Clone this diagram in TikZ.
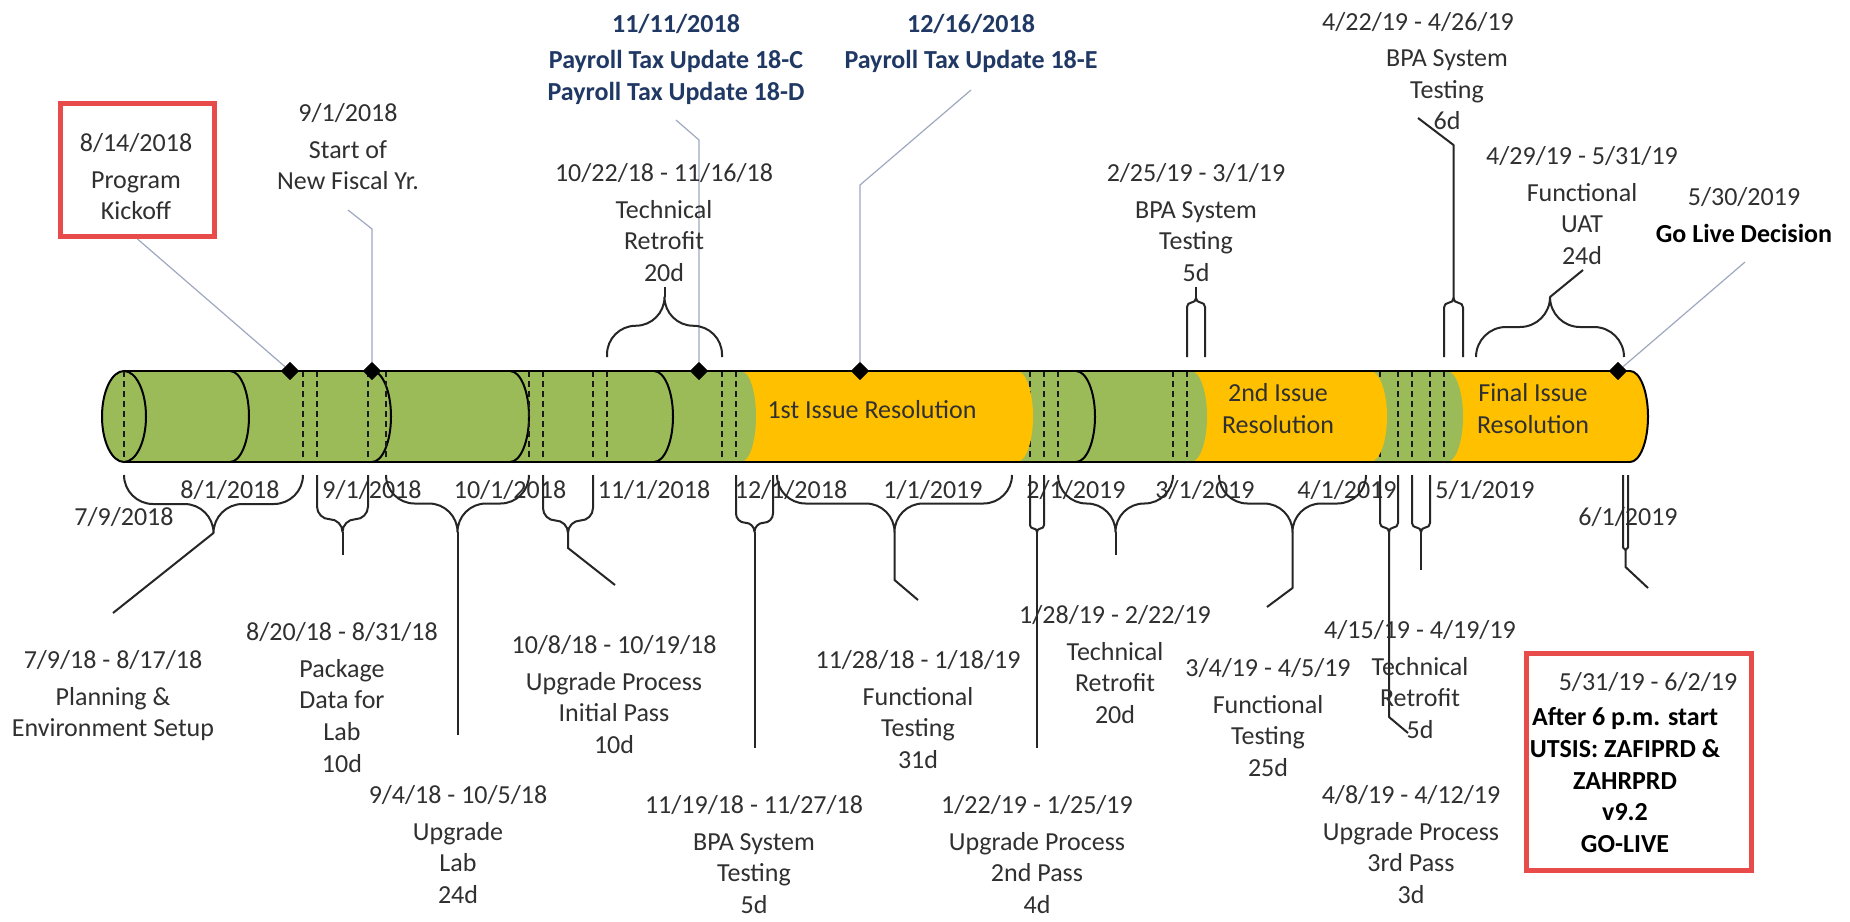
\documentclass[tikz,border=0pt]{standalone}
\usepackage{fontspec}
\setmainfont{Carlito}
\usetikzlibrary{shapes.geometric}
\definecolor{tlgreen}{HTML}{9BBB59}
\definecolor{tlyellow}{HTML}{FFC000}
\definecolor{tlblue}{HTML}{203864}
\definecolor{tlred}{HTML}{E84C4A}
\definecolor{tltext}{HTML}{303030}
\definecolor{tllead}{HTML}{9EA8C0}
% right half-ellipse of the bar, top at x=#1, bulge #2
\newcommand\rcap[2]{(#1,371) .. controls ({#1+0.552*#2},371) and ({#1+#2},391.4) .. ({#1+#2},416.5) .. controls ({#1+#2},441.6) and ({#1+0.552*#2},462) .. (#1,462)}
% curly brace: x1, x2, y0 (ends), y1 (tip), name of tip
\newcommand\tlbrace[5]{%
  \pgfmathsetmacro\tbxa{#1}\pgfmathsetmacro\tbxb{#2}%
  \pgfmathsetmacro\tbya{#3}\pgfmathsetmacro\tbyb{#4}%
  \pgfmathsetmacro\tbxm{(\tbxa+\tbxb)/2}%
  \pgfmathsetmacro\tbs{ifthenelse(\tbyb>\tbya,1,-1)}%
  \pgfmathsetmacro\tbh{abs(\tbyb-\tbya)}%
  \pgfmathsetmacro\tbc{min(\tbh/2,(\tbxb-\tbxa)/4)}%
  \pgfmathsetmacro\tbyv{\tbya+(\tbs)*(\tbh-2*\tbc)}%
  \pgfmathsetmacro\tbym{\tbyv+(\tbs)*\tbc}%
  \pgfmathsetmacro\tbyp{\tbyv+(\tbs)*0.552*\tbc}%
  \pgfmathsetmacro\tbyq{\tbyb-(\tbs)*0.552*\tbc}%
  \pgfmathsetmacro\tbxp{\tbxa+0.448*\tbc}%
  \pgfmathsetmacro\tbxq{\tbxa+\tbc}%
  \pgfmathsetmacro\tbxr{\tbxm-\tbc}%
  \pgfmathsetmacro\tbxs{\tbxm-0.448*\tbc}%
  \pgfmathsetmacro\tbxt{\tbxm+0.448*\tbc}%
  \pgfmathsetmacro\tbxu{\tbxm+\tbc}%
  \pgfmathsetmacro\tbxv{\tbxb-\tbc}%
  \pgfmathsetmacro\tbxw{\tbxb-0.448*\tbc}%
  \draw[bracel] (\tbxa,\tbya) -- (\tbxa,\tbyv)
    .. controls (\tbxa,\tbyp) and (\tbxp,\tbym) .. (\tbxq,\tbym) -- (\tbxr,\tbym)
    .. controls (\tbxs,\tbym) and (\tbxm,\tbyq) .. (\tbxm,\tbyb)
    .. controls (\tbxm,\tbyq) and (\tbxt,\tbym) .. (\tbxu,\tbym) -- (\tbxv,\tbym)
    .. controls (\tbxw,\tbym) and (\tbxb,\tbyp) .. (\tbxb,\tbyv) -- (\tbxb,\tbya);
  \coordinate (#5) at (\tbxm,\tbyb);
}
\begin{document}
\begin{tikzpicture}[x=0.5pt,y=-0.5pt,
  bracel/.style={draw=black!85, line width=1pt, line join=round},
  barline/.style={draw=black, line width=1pt},
  dashline/.style={draw=black!90, line width=0.9pt, dash pattern=on 3pt off 2pt},
  leader/.style={draw=tllead, line width=0.6pt},
  diam/.style={shape=diamond, fill=black, inner sep=0pt, minimum width=9pt, minimum height=9pt},
  lbl/.style={anchor=north, yshift=4.8pt, align=center, inner sep=0pt, font=\fontsize{13}{15.8}\selectfont, text=tltext},
  blbl/.style={lbl, font=\fontsize{13}{15.8}\selectfont\bfseries, text=tlblue},
  klbl/.style={lbl, font=\fontsize{13}{15.8}\selectfont\bfseries, text=black},
  redbox/.style={draw=tlred, line width=2.7pt, inner sep=0pt}]
\useasboundingbox (0,0) rectangle (1850,921);
\fill[white] (0,0) rectangle (1850,921);

% ---------- bar ----------
\fill[tlgreen] (124,371) rectangle (1630,462);
\foreach \mx in {230,372,510,654,1076} \draw[barline] \rcap{\mx}{19};
\foreach \dx in {303,317,368,386,529,543,593,607,722,736,1030,1044,1058,1173,1187,1380,1398,1412,1430,1444}
  \draw[dashline] (\dx,371) -- (\dx,462);
\fill[tlyellow] (741,371) rectangle (1017,462);
\fill[tlyellow] \rcap{1017}{16} -- cycle;
\fill[tlgreen] \rcap{741}{15} -- cycle;
\fill[tlyellow] (1191,371) rectangle (1370,462);
\fill[tlyellow] \rcap{1370}{17} -- cycle;
\fill[tlgreen] \rcap{1191}{16} -- cycle;
\fill[tlyellow] (1447,371) rectangle (1630,462);
\fill[tlyellow] \rcap{1630}{18} -- cycle;
\fill[tlgreen] \rcap{1447}{16} -- cycle;
\draw[barline, fill=tlgreen] (124,416.5) ellipse [x radius=11pt, y radius=22.75pt];
\draw[dashline] (124,371) -- (124,462);
\draw[barline] (124,371) -- (1630,371);
\draw[barline] (124,462) -- (1630,462);
\draw[barline] \rcap{1630}{18};

\node[lbl] (iss1) at (872,410) {1st Issue Resolution};
\node[lbl] (iss2) at (1278,393) {2nd Issue\\Resolution};
\node[lbl] (iss3) at (1533,393) {Final Issue\\Resolution};

% ---------- milestones ----------
\node[diam] (m1) at (290,371) {};
\node[diam] (m2) at (372,371) {};
\node[diam] (m3) at (699,371) {};
\node[diam] (m4) at (860,371) {};
\node[diam] (m5) at (1618,371) {};

\node[redbox, minimum width=76.8pt, minimum height=66.3pt] (kickbox) at (137.5,170) {};
\node[lbl] (kick) at (136,143) {8/14/2018\\[2.4pt]Program\\Kickoff};
\node[lbl] (fisc) at (348,113) {9/1/2018\\[2.4pt]Start of\\New Fiscal Yr.};
\node[blbl] (pay1) at (676,23) {11/11/2018\\[2.4pt]Payroll Tax Update 18-C\\Payroll Tax Update 18-D};
\node[blbl] (pay2) at (971,23) {12/16/2018\\[2.4pt]Payroll Tax Update 18-E};
\node[lbl] (gldd) at (1744,197) {5/30/2019};
\node[klbl] (gld) at (1744,233) {Go Live Decision};

\coordinate (f1) at (348,210); \coordinate (f2) at (372,229);
\coordinate (p1a) at (676,120); \coordinate (p1b) at (699,140);
\coordinate (p2a) at (971,90); \coordinate (p2b) at (860,185);
\coordinate (g1) at (1745,262);
\draw[leader] (kickbox.south) -- (m1.center);
\draw[leader] (f1) -- (f2) -- (m2.center);
\draw[leader] (p1a) -- (p1b) -- (m3.center);
\draw[leader] (p2a) -- (p2b) -- (m4.center);
\draw[leader] (g1) -- (m5.center);
\node[diam] at (m1) {};
\node[diam] at (m2) {};
\node[diam] at (m3) {};
\node[diam] at (m4) {};
\node[diam] at (m5) {};

% ---------- tasks above ----------
\tlbrace{607}{722}{357}{297}{tA}
\tlbrace{1187}{1205}{357}{298}{tB}
\tlbrace{1444}{1463}{357}{298}{tC}
\tlbrace{1476}{1624}{357}{297}{tD}
\coordinate (sA) at (664.5,287);
\coordinate (sB) at (1196,287);
\coordinate (sC1) at (1453.5,145); \coordinate (sC2) at (1418,118);
\coordinate (sD) at (1583,270);
\draw[bracel] (tA) -- (sA);
\draw[bracel] (tB) -- (sB);
\draw[bracel] (tC) -- (sC1) -- (sC2);
\draw[bracel] (tD) -- (sD);
\node[lbl] (tr1) at (664,173) {10/22/18 - 11/16/18\\[2.4pt]Technical\\Retrofit\\20d};
\node[lbl] (bpa2) at (1196,173) {2/25/19 - 3/1/19\\[2.4pt]BPA System\\Testing\\5d};
\node[lbl] (bpa3d) at (1418,22) {4/22/19 - 4/26/19};
\node[lbl] (bpa3) at (1447,59) {BPA System\\Testing\\6d};
\node[lbl] (uat) at (1582,156) {4/29/19 - 5/31/19\\[2.4pt]Functional\\UAT\\24d};

% ---------- axis dates ----------
\foreach \ax/\ay/\at/\nm in {124/517/7\slash 9\slash 2018/d0, 230/490/8\slash 1\slash 2018/d1,
  372/490/9\slash 1\slash 2018/d2, 510/490/10\slash 1\slash 2018/d3, 654/490/11\slash 1\slash 2018/d4,
  791/490/12\slash 1\slash 2018/d5, 933/490/1\slash 1\slash 2019/d6, 1076/490/2\slash 1\slash 2019/d7,
  1205/490/3\slash 1\slash 2019/d8, 1347/490/4\slash 1\slash 2019/d9, 1485/490/5\slash 1\slash 2019/d10,
  1628/517/6\slash 1\slash 2019/d11}
  \node[lbl] (\nm) at (\ax,\ay) {\at};

% ---------- tasks below ----------
\tlbrace{124}{303}{475}{533}{b1}
\tlbrace{317}{368}{475}{532}{b2}
\tlbrace{386}{529}{475}{532}{b3}
\tlbrace{543}{593}{475}{533}{b4}
\tlbrace{736}{773}{475}{532}{b5}
\tlbrace{777}{1012}{475}{532}{b6}
\tlbrace{1030}{1044}{475}{532}{b7}
\tlbrace{1058}{1173}{475}{532}{b8}
\tlbrace{1219}{1366}{475}{532}{b9}
\tlbrace{1380}{1398}{475}{532}{b10}
\tlbrace{1412}{1430}{475}{532}{b11}
\tlbrace{1623}{1628}{475}{550}{b12}
\coordinate (s1) at (113,613);
\coordinate (s2) at (342.5,555);
\coordinate (s3) at (457.5,735);
\coordinate (s4a) at (568,548); \coordinate (s4b) at (615,585);
\coordinate (s5) at (754.5,748);
\coordinate (s6a) at (894.5,580); \coordinate (s6b) at (918,600);
\coordinate (s7) at (1037,748);
\coordinate (s8) at (1115.5,555);
\coordinate (s9a) at (1292.5,588); \coordinate (s9b) at (1267,607);
\coordinate (s10a) at (1389,717); \coordinate (s10b) at (1408,733);
\coordinate (s11) at (1421,570);
\coordinate (s12a) at (1625.5,567); \coordinate (s12b) at (1648,588);
\draw[bracel] (b1) -- (s1);
\draw[bracel] (b2) -- (s2);
\draw[bracel] (b3) -- (s3);
\draw[bracel] (b4) -- (s4a) -- (s4b);
\draw[bracel] (b5) -- (s5);
\draw[bracel] (b6) -- (s6a) -- (s6b);
\draw[bracel] (b7) -- (s7);
\draw[bracel] (b8) -- (s8);
\draw[bracel] (b9) -- (s9a) -- (s9b);
\draw[bracel] (b10) -- (s10a) -- (s10b);
\draw[bracel] (b11) -- (s11);
\draw[bracel] (b12) -- (s12a) -- (s12b);

\node[lbl] (plan) at (113,660) {7/9/18 - 8/17/18\\[2.4pt]Planning \&\\Environment Setup};
\node[lbl] (pkg) at (342,632) {8/20/18 - 8/31/18\\[2.4pt]Package\\Data for\\Lab\\10d};
\node[lbl] (ulab) at (458,795) {9/4/18 - 10/5/18\\[2.4pt]Upgrade\\Lab\\24d};
\node[lbl] (uip) at (614,645) {10/8/18 - 10/19/18\\[2.4pt]Upgrade Process\\Initial Pass\\10d};
\node[lbl] (bpa1) at (754,805) {11/19/18 - 11/27/18\\[2.4pt]BPA System\\Testing\\5d};
\node[lbl] (ft31) at (918,660) {11/28/18 - 1/18/19\\[2.4pt]Functional\\Testing\\31d};
\node[lbl] (up2) at (1037,805) {1/22/19 - 1/25/19\\[2.4pt]Upgrade Process\\2nd Pass\\4d};
\node[lbl] (tr20) at (1115,615) {1/28/19 - 2/22/19\\[2.4pt]Technical\\Retrofit\\20d};
\node[lbl] (ft25) at (1268,668) {3/4/19 - 4/5/19\\[2.4pt]Functional\\Testing\\25d};
\node[lbl] (up3) at (1411,795) {4/8/19 - 4/12/19\\[2.4pt]Upgrade Process\\3rd Pass\\3d};
\node[lbl] (tr5) at (1420,630) {4/15/19 - 4/19/19\\[2.4pt]Technical\\Retrofit\\5d};

\node[redbox, minimum width=112.3pt, minimum height=108.3pt] (gobox) at (1639,762) {};
\node[lbl] (god) at (1648,682) {5/31/19 - 6/2/19};
\node[klbl] (go) at (1625,717) {After 6 p.m. start\\UTSIS: ZAFIPRD \&\\ZAHRPRD\\v9.2\\GO-LIVE};
\end{tikzpicture}
\end{document}
